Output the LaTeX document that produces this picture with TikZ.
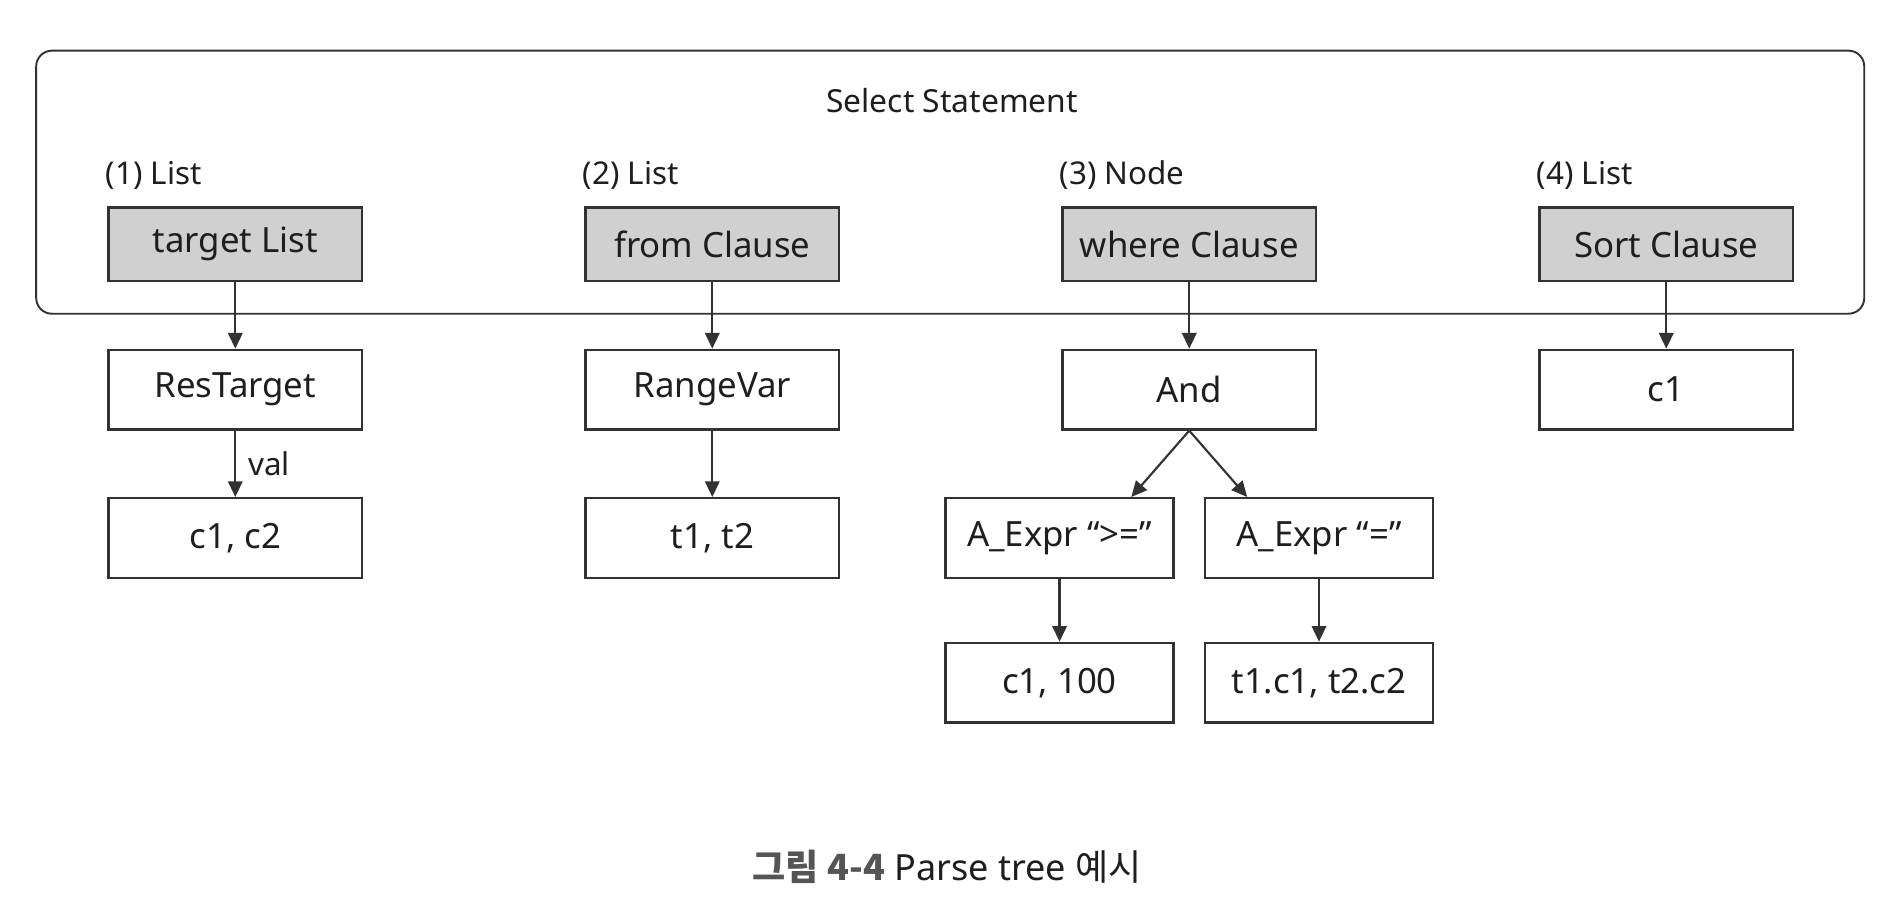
\documentclass[tikz,border=0pt]{standalone}
\usepackage{fontspec}
\setmainfont{Noto Sans}
\newfontfamily\krfont{Noto Sans CJK KR}
\usetikzlibrary{arrows.meta,positioning,calc}
\definecolor{ink}{RGB}{30,30,30}
\definecolor{frame}{RGB}{50,50,50}
\definecolor{shade}{RGB}{208,208,208}
\definecolor{capgray}{RGB}{85,85,85}

\tikzset{
  pbox/.style={draw=frame,line width=0.55pt,minimum width=21mm,minimum height=6.6mm,inner sep=0pt,
    font=\fontsize{8.2}{10}\selectfont,text=ink},
  clause/.style={pbox,fill=shade,minimum height=6.1mm},
  tag/.style={font=\fontsize{7.4}{9}\selectfont,text=ink,inner sep=0pt,anchor=base west},
  link/.style={draw=frame,line width=0.5pt,-{Triangle[length=1.3mm,width=1.2mm]}}
}

\begin{document}
\begin{tikzpicture}[x=0.1mm,y=-0.1mm,node distance=5.5mm]
  \useasboundingbox (0,0) rectangle (1568,751);
  % select statement frame
  \draw[frame,line width=0.45pt,rounded corners=1.3mm] (30,42) rectangle (1545,260);
  \node[font=\fontsize{7.5}{9}\selectfont,text=ink] (stmt) at (789,83) {Select Statement};
  \foreach \t/\k/\n [count=\i from 0] in {target List/(1) List/tl, from Clause/(2) List/fc,
    where Clause/(3) Node/wc, Sort Clause/(4) List/sc}
  {
    \pgfmathsetmacro{\x}{195+\i*395.3}
    \node[clause] (\n) at (\x,202.5) {\t};
    \node[tag] (\n-tag) at ([xshift=-0.2mm,yshift=1.8mm]\n.north west) {\k};
  }
  % children
  \node[pbox,below=of tl] (rt) {ResTarget};
  \node[pbox,below=of fc] (rv) {RangeVar};
  \node[pbox,below=of wc] (and) {And};
  \node[pbox,below=of sc] (sc1) {c1};
  \node[pbox,below=of rt] (cc) {c1, c2};
  \node[pbox,below=of rv] (tt) {t1, t2};
  \node[pbox,minimum width=18.9mm,below=of and,xshift=-10.75mm] (ge) {A\_Expr “>=”};
  \node[pbox,minimum width=18.9mm,below=of and,xshift=10.75mm] (eq) {A\_Expr “=”};
  \node[pbox,minimum width=18.9mm,below=5.2mm of ge] (cv) {c1, 100};
  \node[pbox,minimum width=18.9mm,below=5.2mm of eq] (tc) {t1.c1, t2.c2};
  % links
  \draw[link] (tl) -- (rt);
  \draw[link] (rt) -- node[right=1mm,font=\fontsize{7.4}{9}\selectfont,text=ink,inner sep=0pt] (val) {val} (cc);
  \draw[link] (fc) -- (rv);
  \draw[link] (rv) -- (tt);
  \draw[link] (wc) -- (and);
  \draw[link] (and.south) -- ([xshift=-3.6mm]ge.north east);
  \draw[link] (and.south) -- ([xshift=3.6mm]eq.north west);
  \draw[link] (ge) -- (cv);
  \draw[link] (eq) -- (tc);
  \draw[link] (sc) -- (sc1);
  % caption
  \node[font=\fontsize{8.5}{10}\selectfont,text=ink] (cap) at (785,718)
    {{\krfont\bfseries\color{capgray}그림 4-4} Parse tree {\krfont 예시}};
\end{tikzpicture}
\end{document}
